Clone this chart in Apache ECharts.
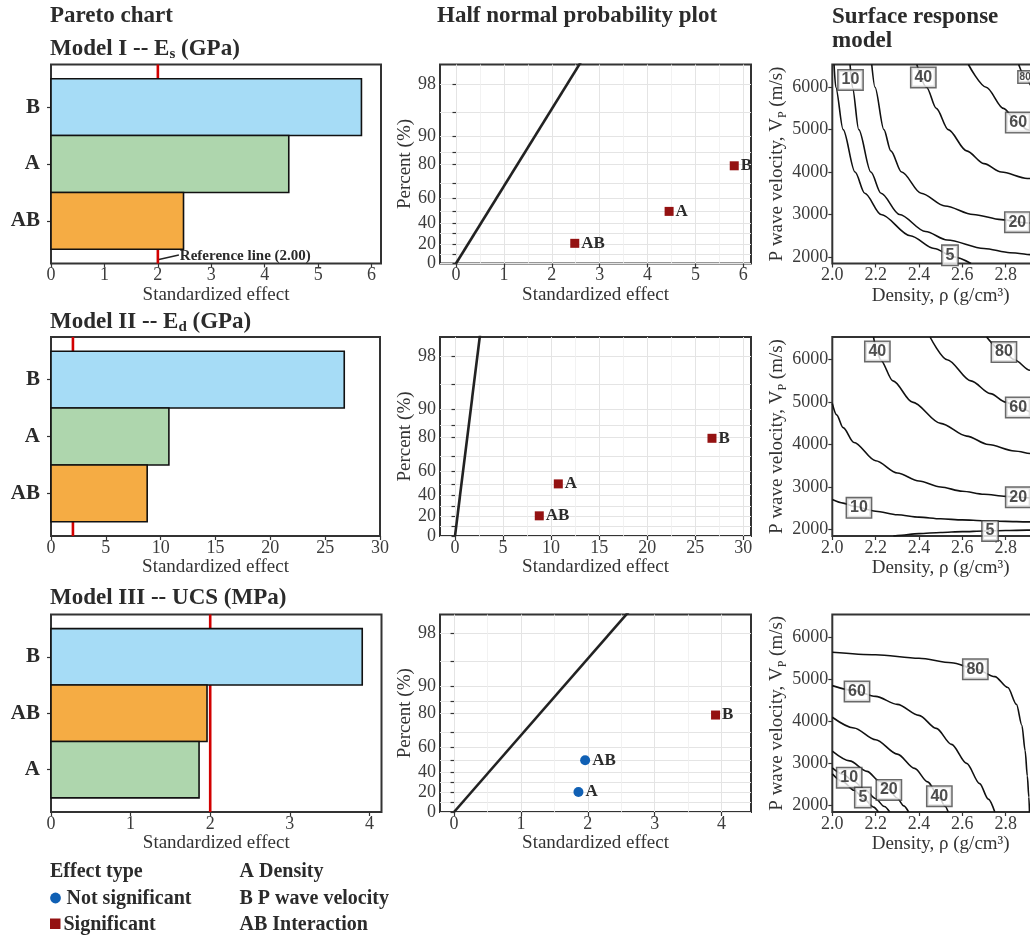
<!DOCTYPE html>
<html>
<head>
<meta charset="utf-8">
<script src="https://cdn.jsdelivr.net/npm/echarts@6/dist/echarts.min.js"></script>
<style>
  html, body { margin: 0; padding: 0; background: #ffffff; }
  #chart { width: 1030px; height: 940px; }
</style>
</head>
<body>
<div id="chart"></div>
<script>
// ---------------- Pareto chart: standardized effects per model ----------------
const termsI = ['B', 'A', 'AB'];
const effectsI = [5.81, 4.45, 2.48];
const termsII = ['B', 'A', 'AB'];
const effectsII = [26.74, 10.75, 8.77];
const termsIII = ['B', 'AB', 'A'];
const effectsIII = [3.91, 1.96, 1.86];
const referenceEffect = 2.0;

// ---------------- Half normal probability plot ----------------
const hnTermsI = ['AB', 'A', 'B'];
const hnEffectsI = [2.48, 4.45, 5.81];
const hnTermsII = ['AB', 'A', 'B'];
const hnEffectsII = [8.77, 10.75, 26.74];
const hnTermsIII = ['A', 'AB', 'B'];
const hnEffectsIII = [1.86, 1.96, 3.91];
const hnPercent = [20.6, 50, 79.4];
const percentLabels = [0, 20, 40, 60, 80, 90, 98];
const percentTicks = [0, 10, 20, 30, 40, 50, 60, 70, 80, 85, 90, 95, 98];
const percentMax = 99;
// fitted line, in half-normal score units: [effect, score]
const hnLine = [[0, 0], [2.7, 2.7]];

// ---------------- Surface response contours: [density, Vp] ----------------
const esLevels = ['5', '10', '20', '40', '60', '80'];
const esLines = [
  [[2.008, 6535], [2.016, 6000], [2.05, 5000], [2.105, 4000], [2.15, 3500], [2.225, 3000], [2.36, 2500], [2.47, 2200], [2.56, 2000], [2.64, 1845]],
  [[2.082, 6535], [2.093, 6000], [2.122, 5000], [2.178, 4000], [2.225, 3500], [2.31, 3000], [2.43, 2600], [2.53, 2400], [2.7, 2200], [2.82, 2100], [2.95, 2040], [3.0, 2030]],
  [[2.182, 6535], [2.197, 6000], [2.238, 5000], [2.27, 4500], [2.32, 4000], [2.41, 3500], [2.52, 3200], [2.65, 3000], [2.78, 2880], [2.9, 2800], [3.0, 2770]],
  [[2.39, 6535], [2.435, 6000], [2.48, 5500], [2.535, 5000], [2.62, 4500], [2.7, 4200], [2.78, 4000], [2.9, 3850], [3.0, 3780]],
  [[2.628, 6535], [2.71, 6000], [2.79, 5500], [2.85, 5200], [2.9, 5000], [2.96, 4800], [3.0, 4700]],
  [[2.86, 6535], [2.89, 6240], [2.93, 5950], [3.0, 5600]]
];
const esLabels = [[2.084, 6171, '10'], [2.42, 6231, '40'], [2.89, 6240, '80'], [2.858, 5166, '60'], [2.854, 2820, '20'], [2.543, 2037, '5']];

const edLevels = ['5', '10', '20', '40', '60', '80'];
const edLines = [
  [[2.282, 1845], [2.3, 1858], [2.4, 1900], [2.5, 1928], [2.6, 1948], [2.7, 1962], [2.8, 1974], [2.9, 1983], [3.0, 1990]],
  [[2.0, 2703], [2.05, 2620], [2.1, 2545], [2.2, 2430], [2.3, 2345], [2.4, 2290], [2.5, 2250], [2.6, 2225], [2.7, 2205], [2.8, 2190], [2.9, 2178], [3.0, 2168]],
  [[2.0, 4969], [2.02, 4700], [2.05, 4400], [2.1, 4050], [2.2, 3620], [2.3, 3330], [2.4, 3140], [2.5, 3000], [2.6, 2900], [2.7, 2830], [2.8, 2780], [2.9, 2745], [3.0, 2720]],
  [[2.19, 6535], [2.208, 6195], [2.222, 6000], [2.28, 5500], [2.37, 5000], [2.5, 4500], [2.62, 4200], [2.72, 4000], [2.84, 3850], [2.93, 3780], [3.0, 3750]],
  [[2.451, 6535], [2.53, 6000], [2.64, 5500], [2.73, 5200], [2.8, 5000], [2.858, 4875], [2.93, 4750], [3.0, 4680]],
  [[2.712, 6535], [2.792, 6180], [2.84, 6000], [2.912, 5750], [3.0, 5600]]
];
const edLabels = [[2.208, 6195, '40'], [2.792, 6180, '80'], [2.858, 4875, '60'], [2.858, 2758, '20'], [2.123, 2508, '10'], [2.728, 1965, '5']];

const ucsLevels = ['5', '10', '20', '40', '60', '80'];
const ucsLines = [
  [[2.0, 2751], [2.05, 2560], [2.1, 2360], [2.15, 2140], [2.19, 1960], [2.213, 1845]],
  [[2.0, 2893], [2.05, 2740], [2.1, 2570], [2.15, 2380], [2.2, 2160], [2.24, 1975], [2.265, 1845]],
  [[2.0, 3289], [2.08, 3060], [2.16, 2810], [2.22, 2570], [2.26, 2380], [2.3, 2170], [2.33, 1990], [2.352, 1845]],
  [[2.0, 4095], [2.1, 3840], [2.2, 3560], [2.3, 3220], [2.38, 2880], [2.44, 2560], [2.49, 2230], [2.52, 1980], [2.535, 1845]],
  [[2.0, 4846], [2.1, 4730], [2.2, 4590], [2.3, 4400], [2.4, 4140], [2.48, 3830], [2.55, 3450], [2.62, 3000], [2.68, 2520], [2.72, 2150], [2.75, 1845]],
  [[2.0, 5640], [2.2, 5580], [2.4, 5495], [2.55, 5390], [2.663, 5240], [2.75, 5060], [2.81, 4800], [2.85, 4400], [2.875, 3900], [2.89, 3300], [2.9, 2700], [2.907, 2200], [2.91, 1845]]
];
const ucsLabels = [[2.66, 5235, '80'], [2.114, 4708, '60'], [2.494, 2221, '40'], [2.261, 2370, '20'], [2.078, 2660, '10'], [2.141, 2190, '5']];

// ---------------- styling ----------------
const SERIF = '"Liberation Serif", "Times New Roman", serif';
const SANS = '"Liberation Sans", Arial, sans-serif';
const INK = '#2b2b2b';
const TICK_INK = '#3c3c3c';
const effectColors = { A: '#aed6ad', B: '#a6dcf6', AB: '#f5ac44' };
const SIG_RED = '#941212';
const NS_BLUE = '#1060b4';

// half-normal score for a cumulative percentage (probability axis transform)
function normInv(p) {
  const a = [-3.969683028665376e+01, 2.209460984245205e+02, -2.759285104469687e+02, 1.383577518672690e+02, -3.066479806614716e+01, 2.506628277459239e+00];
  const b = [-5.447609879822406e+01, 1.615858368580409e+02, -1.556989798598866e+02, 6.680131188771972e+01, -1.328068155288572e+01];
  const c = [-7.784894002430293e-03, -3.223964580411365e-01, -2.400758277161838e+00, -2.549732539343734e+00, 4.374664141464968e+00, 2.938163982698783e+00];
  const d = [7.784695709041462e-03, 3.224671290700398e-01, 2.445134137142996e+00, 3.754408661907416e+00];
  const pl = 0.02425, ph = 1 - pl;
  let q, r;
  if (p < pl) {
    q = Math.sqrt(-2 * Math.log(p));
    return (((((c[0] * q + c[1]) * q + c[2]) * q + c[3]) * q + c[4]) * q + c[5]) / ((((d[0] * q + d[1]) * q + d[2]) * q + d[3]) * q + 1);
  }
  if (p <= ph) {
    q = p - 0.5; r = q * q;
    return (((((a[0] * r + a[1]) * r + a[2]) * r + a[3]) * r + a[4]) * r + a[5]) * q / (((((b[0] * r + b[1]) * r + b[2]) * r + b[3]) * r + b[4]) * r + 1);
  }
  q = Math.sqrt(-2 * Math.log(1 - p));
  return -(((((c[0] * q + c[1]) * q + c[2]) * q + c[3]) * q + c[4]) * q + c[5]) / ((((d[0] * q + d[1]) * q + d[2]) * q + d[3]) * q + 1);
}
const score = pct => (pct <= 0 ? 0 : normInv(0.5 + pct / 200));

const grids = [], xAxes = [], yAxes = [], series = [];

const tickStyle = len => ({ show: true, length: len, lineStyle: { color: '#333', width: 1.2 } });
const labelStyle = { color: TICK_INK, fontFamily: SERIF, fontSize: 18 };
const axisNameStyle = { color: '#333', fontFamily: SERIF, fontSize: 19 };

function addGrid(box) {
  grids.push(Object.assign({
    show: true, borderColor: '#333', borderWidth: 2, backgroundColor: 'transparent',
    containLabel: false, outerBoundsMode: 'none'
  }, box));
  return grids.length - 1;
}

function range(from, to, step) {
  const out = [];
  for (let v = from; v <= to + 1e-9; v += step) out.push(Math.round(v * 1000) / 1000);
  return out;
}

// ---- Pareto panels ----
function addPareto(box, terms, effects, xMax, xStep) {
  const g = addGrid(box);
  const ticks = range(0, xMax, xStep);
  const xi = xAxes.push({
    type: 'value', gridIndex: g, min: 0, max: xMax,
    axisLine: { show: false }, splitLine: { show: false },
    axisTick: Object.assign(tickStyle(4), { customValues: ticks }),
    axisLabel: Object.assign({ customValues: ticks, margin: 3, formatter: v => String(v) }, labelStyle),
    name: 'Standardized effect', nameLocation: 'middle', nameGap: 22, nameTextStyle: axisNameStyle
  }) - 1;
  const yi = yAxes.push({
    type: 'value', gridIndex: g, min: 0.25, max: 3.75, inverse: true,
    axisLine: { show: false }, splitLine: { show: false },
    axisTick: Object.assign(tickStyle(4), { customValues: [1, 2, 3] }),
    axisLabel: {
      customValues: [1, 2, 3], margin: 11,
      formatter: v => terms[Math.round(v) - 1],
      color: INK, fontFamily: SERIF, fontSize: 21, fontWeight: 'bold'
    }
  }) - 1;
  // critical t reference line, drawn beneath the bars
  series.push({
    type: 'line', xAxisIndex: xi, yAxisIndex: yi, z: 1, silent: true,
    data: [[referenceEffect, 0.25], [referenceEffect, 3.75]],
    symbol: 'none', lineStyle: { color: '#d20000', width: 2.6 }
  });
  series.push({
    type: 'custom', xAxisIndex: xi, yAxisIndex: yi, z: 2,
    encode: { x: 0, y: 1 },
    data: effects.map((v, i) => [v, i + 1]),
    renderItem: (params, api) => {
      const v = api.value(0), p = api.value(1);
      const a = api.coord([0, p - 0.5]);
      const b = api.coord([v, p + 0.5]);
      return {
        type: 'rect',
        shape: { x: a[0], y: Math.min(a[1], b[1]), width: b[0] - a[0], height: Math.abs(b[1] - a[1]) },
        style: { fill: effectColors[terms[params.dataIndex]], stroke: '#111', lineWidth: 1.6 }
      };
    }
  });
  return g;
}

// ---- Half normal panels ----
function addHalfNormal(box, terms, effects, xMin, xMax, xStep) {
  const g = addGrid(box);
  const majors = range(0, xMax, xStep);
  const minors = range(xStep / 2, xMax, xStep);
  const xi = xAxes.push({
    type: 'value', gridIndex: g, min: xMin, max: xMax,
    axisLine: { show: false },
    splitLine: { show: true, lineStyle: { color: '#e4e4e4', width: 1 } },
    axisTick: Object.assign(tickStyle(4), { customValues: majors }),
    axisLabel: Object.assign({ customValues: majors, margin: 3, formatter: v => String(v) }, labelStyle),
    name: 'Standardized effect', nameLocation: 'middle', nameGap: 22, nameTextStyle: axisNameStyle
  }) - 1;
  // minor vertical grid
  xAxes.push({
    type: 'value', gridIndex: g, min: xMin, max: xMax, position: 'bottom',
    axisLine: { show: false }, axisLabel: { show: false },
    axisTick: { show: false, customValues: minors },
    splitLine: { show: true, lineStyle: { color: '#efefef', width: 0.8 } }
  });
  const labelScores = percentLabels.map(score);
  const yi = yAxes.push({
    type: 'value', gridIndex: g, min: 0, max: score(percentMax),
    axisLine: { show: false },
    splitLine: { show: true, lineStyle: { color: '#e4e4e4', width: 1 } },
    axisTick: Object.assign(tickStyle(3.5), { customValues: percentTicks.map(score) }),
    axisLabel: Object.assign({
      customValues: labelScores, margin: 4,
      formatter: v => {
        const k = labelScores.findIndex(s => Math.abs(s - v) < 1e-6);
        return k >= 0 ? String(percentLabels[k]) : '';
      }
    }, labelStyle),
    name: 'Percent (%)', nameLocation: 'middle', nameGap: 24, nameTextStyle: axisNameStyle
  }) - 1;
  series.push({
    type: 'line', xAxisIndex: xi, yAxisIndex: yi, z: 3, silent: true, clip: true,
    data: hnLine, symbol: 'none', lineStyle: { color: '#222', width: 2.6 }
  });
  series.push({
    type: 'scatter', xAxisIndex: xi, yAxisIndex: yi, z: 4,
    data: effects.map((e, i) => {
      const sig = e > referenceEffect;
      return {
        value: [e, score(hnPercent[i])], name: terms[i],
        symbol: sig ? 'rect' : 'circle', symbolSize: sig ? 9 : 10,
        itemStyle: { color: sig ? SIG_RED : NS_BLUE, opacity: 1 }
      };
    }),
    itemStyle: { opacity: 1 },
    label: {
      show: true, position: 'right', distance: 2, formatter: '{b}',
      color: INK, fontFamily: SERIF, fontSize: 17, fontWeight: 'bold'
    }
  });
  return g;
}

// ---- Contour panels ----
function addContour(box, levels, lines, labels, smallLabel) {
  const g = addGrid(box);
  const xt = [2.0, 2.2, 2.4, 2.6, 2.8];
  const yt = [2000, 3000, 4000, 5000, 6000];
  const xi = xAxes.push({
    type: 'value', gridIndex: g, min: 2.0, max: 3.0,
    axisLine: { show: false }, splitLine: { show: false },
    axisTick: Object.assign(tickStyle(4), { customValues: xt }),
    axisLabel: Object.assign({ customValues: xt, margin: 3, formatter: v => v.toFixed(1) }, labelStyle),
    name: 'Density, \u03c1 (g/cm\u00b3)', nameLocation: 'middle', nameGap: 23, nameTextStyle: axisNameStyle
  }) - 1;
  const yi = yAxes.push({
    type: 'value', gridIndex: g, min: 1845, max: 6535,
    axisLine: { show: false }, splitLine: { show: false },
    axisTick: Object.assign(tickStyle(4), { customValues: yt }),
    axisLabel: Object.assign({ customValues: yt, margin: 4, formatter: v => String(Math.round(v)) }, labelStyle),
    name: 'P wave velocity, V{sub|P} (m/s)', nameLocation: 'middle', nameGap: 39,
    nameTextStyle: Object.assign({}, axisNameStyle, {
      lineHeight: 22,
      rich: { sub: { fontFamily: SERIF, fontSize: 12, color: '#333', lineHeight: 9, verticalAlign: 'bottom' } }
    })
  }) - 1;
  lines.forEach((pts, k) => {
    series.push({
      type: 'line', name: levels[k], xAxisIndex: xi, yAxisIndex: yi, z: 2, silent: true, clip: true,
      data: pts, symbol: 'none', smooth: 0.3, smoothMonotone: 'x',
      lineStyle: { color: '#111', width: 1.6 }
    });
  });
  series.push({
    type: 'scatter', xAxisIndex: xi, yAxisIndex: yi, z: 5, silent: true,
    symbolSize: 1, itemStyle: { color: 'rgba(0,0,0,0)' },
    data: labels.map(l => {
      const item = { value: [l[0], l[1]], name: l[2] };
      if (smallLabel && smallLabel === l[2]) item.label = { fontSize: 10, padding: [1, 1, 0, 1] };
      return item;
    }),
    label: {
      show: true, position: 'inside', formatter: '{b}',
      fontFamily: SANS, fontWeight: 'bold', fontSize: 16, color: '#222',
      backgroundColor: '#ffffff', borderColor: '#444', borderWidth: 1.5, padding: [2, 3, 1, 3]
    }
  });
  return g;
}

const rows = [
  { top: 64.5, height: 199 },
  { top: 337, height: 199 },
  { top: 614.5, height: 197.5 }
];

addPareto({ left: 51, top: rows[0].top, width: 330, height: rows[0].height }, termsI, effectsI, 6.176, 1);
addHalfNormal({ left: 440, top: rows[0].top, width: 311, height: rows[0].height }, hnTermsI, hnEffectsI, -0.334, 6.16, 1);
addContour({ left: 832.3, top: rows[0].top, width: 216.7, height: rows[0].height }, esLevels, esLines, esLabels, '80');

addPareto({ left: 51, top: rows[1].top, width: 329, height: rows[1].height }, termsII, effectsII, 30, 5);
addHalfNormal({ left: 440, top: rows[1].top, width: 311, height: rows[1].height }, hnTermsII, hnEffectsII, -1.56, 30.8, 5);
addContour({ left: 832.3, top: rows[1].top, width: 216.7, height: rows[1].height }, edLevels, edLines, edLabels, null);

addPareto({ left: 51, top: rows[2].top, width: 330.5, height: rows[2].height }, termsIII, effectsIII, 4.152, 1);
addHalfNormal({ left: 440, top: rows[2].top, width: 311, height: rows[2].height }, hnTermsIII, hnEffectsIII, -0.21, 4.44, 1);
addContour({ left: 832.3, top: rows[2].top, width: 216.7, height: rows[2].height }, ucsLevels, ucsLines, ucsLabels, null);

const titleFont = { fontFamily: SERIF, fontWeight: 'bold', fontSize: 23, color: INK };
const subRich = { sub: { fontFamily: SERIF, fontWeight: 'bold', fontSize: 15, color: INK, lineHeight: 11, verticalAlign: 'bottom' } };
const titles = [
  { text: 'Pareto chart', left: 50, top: 5, textStyle: titleFont },
  { text: 'Model I -- E{sub|s} (GPa)', left: 50, top: 36, textStyle: Object.assign({ lineHeight: 26, rich: subRich }, titleFont) },
  { text: 'Half normal probability plot', left: 437, top: 5, textStyle: titleFont },
  { text: 'Surface response\nmodel', left: 832, top: 5, textStyle: Object.assign({ lineHeight: 24 }, titleFont) },
  { text: 'Model II -- E{sub|d} (GPa)', left: 50, top: 309, textStyle: Object.assign({ lineHeight: 26, rich: subRich }, titleFont) },
  { text: 'Model III -- UCS (MPa)', left: 50, top: 587, textStyle: titleFont }
].map(t => Object.assign({ padding: 0, itemGap: 0 }, t));

const legendFont = { fontFamily: SERIF, fontWeight: 'bold', fontSize: 20, fill: INK, verticalAlign: 'middle', align: 'left' };
const legendGraphics = [
  { type: 'text', x: 50, y: 872, style: Object.assign({ text: 'Effect type' }, legendFont) },
  { type: 'circle', shape: { cx: 55.5, cy: 898, r: 5.4 }, style: { fill: NS_BLUE } },
  { type: 'text', x: 66.5, y: 898.5, style: Object.assign({ text: 'Not significant' }, legendFont) },
  { type: 'rect', shape: { x: 50, y: 918.5, width: 10.5, height: 10.5 }, style: { fill: SIG_RED } },
  { type: 'text', x: 63.5, y: 925, style: Object.assign({ text: 'Significant' }, legendFont) },
  { type: 'text', x: 239.5, y: 872, style: Object.assign({ text: 'A Density' }, legendFont) },
  { type: 'text', x: 239.5, y: 898.5, style: Object.assign({ text: 'B P wave velocity' }, legendFont) },
  { type: 'text', x: 239.5, y: 925, style: Object.assign({ text: 'AB Interaction' }, legendFont) }
];

const chart = echarts.init(document.getElementById('chart'), null, { renderer: 'canvas' });
chart.setOption({
  animation: false,
  backgroundColor: '#ffffff',
  title: titles,
  grid: grids,
  xAxis: xAxes,
  yAxis: yAxes,
  series: series,
  graphic: legendGraphics
});

// annotation for the reference line on the first Pareto panel
const refPx = chart.convertToPixel({ gridIndex: 0 }, [referenceEffect, 3.75]);
chart.setOption({
  graphic: legendGraphics.concat([
    { type: 'line', shape: { x1: refPx[0] + 1, y1: refPx[1] - 4, x2: refPx[0] + 21, y2: refPx[1] - 8.5 }, style: { stroke: '#222', lineWidth: 1.3 } },
    { type: 'text', x: refPx[0] + 22, y: refPx[1] - 7.5, style: { text: 'Reference line (2.00)', fontFamily: SERIF, fontWeight: 'bold', fontSize: 15, fill: INK, verticalAlign: 'middle', align: 'left' } }
  ])
});
</script>
</body>
</html>
